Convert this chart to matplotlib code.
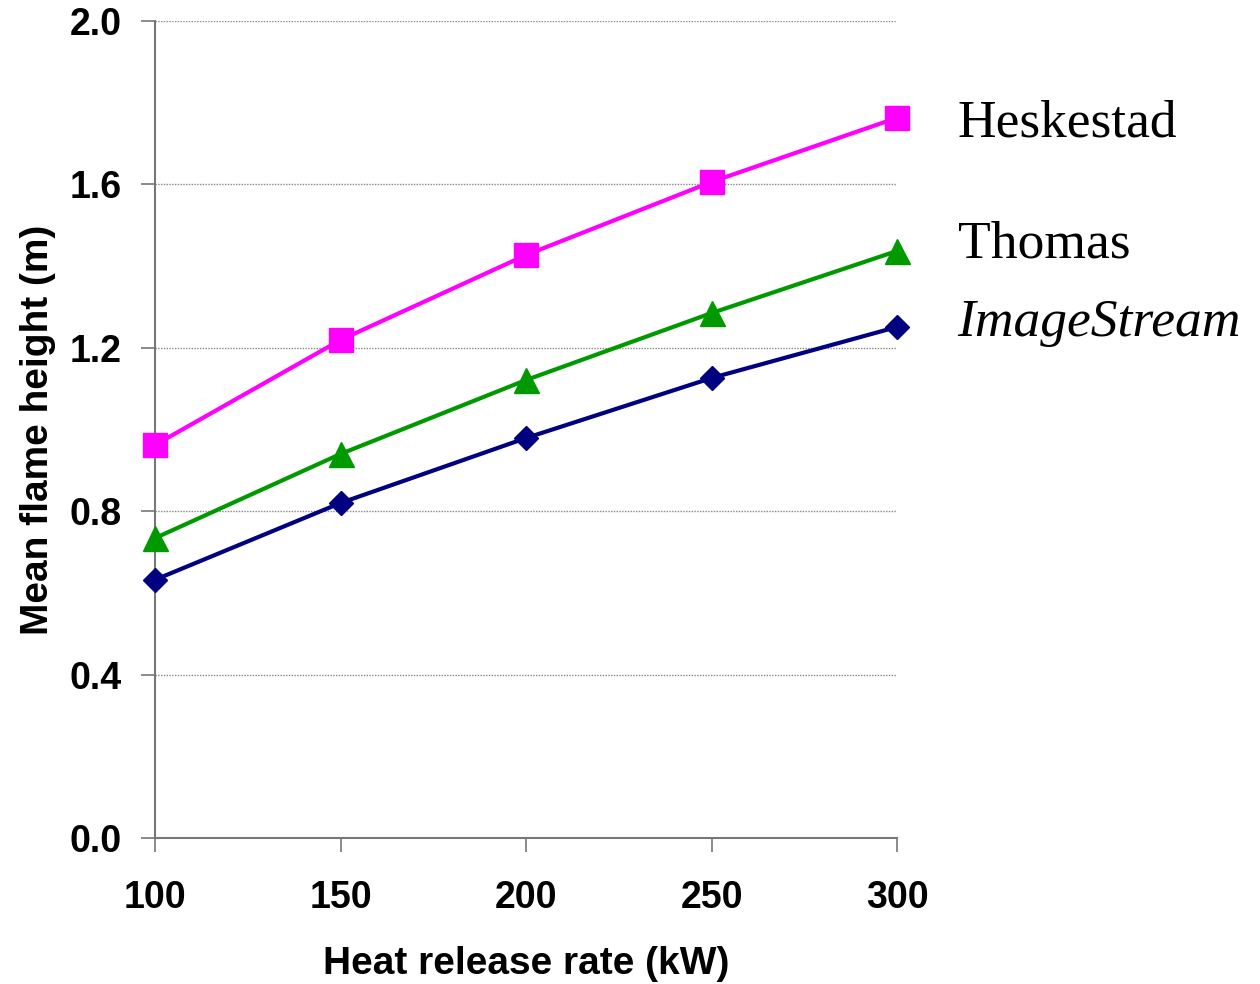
import matplotlib
matplotlib.use('Agg')
import matplotlib.pyplot as plt

hrr = [100, 150, 200, 250, 300]
heskestad = [0.962, 1.219, 1.427, 1.606, 1.763]
thomas = [0.734, 0.940, 1.121, 1.285, 1.437]
imagestream = [0.632, 0.820, 0.979, 1.126, 1.251]
yticks = [0.0, 0.4, 0.8, 1.2, 1.6, 2.0]

plt.rcParams['font.family'] = ['Liberation Sans', 'DejaVu Sans']

fig = plt.figure(figsize=(12.6, 9.84), dpi=100)
ax = fig.add_axes([0.123, 0.1484, 0.589, 0.8303])

ax.plot(hrr, heskestad, color='#ff00ff', lw=3, marker='s', ms=17, clip_on=False, zorder=4)
ax.plot(hrr, thomas, color='#009900', lw=3, marker='^', ms=18, clip_on=False, zorder=4)
ax.plot(hrr, imagestream, color='#000080', lw=3, marker='D', ms=12, clip_on=False, zorder=4)

ax.set_xlim(100, 300)
ax.set_ylim(0, 2.0)
ax.set_xticks(hrr)
ax.set_yticks(yticks)
ax.set_yticklabels([f'{v:.1f}' for v in yticks])
for lbl in ax.get_xticklabels() + ax.get_yticklabels():
    lbl.set_fontweight('bold')
    lbl.set_fontsize(27)
ax.tick_params(axis='x', direction='out', length=10, width=1.2, color='#777777', pad=20)
ax.tick_params(axis='y', direction='out', length=10, width=1.2, color='#777777', pad=14)
ax.yaxis.grid(True, color='#888888', lw=1, linestyle=(0, (1, 1)))
ax.set_axisbelow(True)
for s in ['top', 'right']:
    ax.spines[s].set_visible(False)
for s in ['left', 'bottom']:
    ax.spines[s].set_color('#777777')
    ax.spines[s].set_linewidth(1.5)

ax.set_xlabel('Heat release rate (kW)', fontsize=28, fontweight='bold', labelpad=22)
ax.set_ylabel('Mean flame height (m)', fontsize=28, fontweight='bold', labelpad=10)

fig.text(0.76, 0.874, 'Heskestad', fontsize=38.5, family='Liberation Serif', va='center')
fig.text(0.76, 0.752, 'Thomas', fontsize=38.5, family='Liberation Serif', va='center')
fig.text(0.76, 0.672, 'ImageStream', fontsize=38.5, family='Liberation Serif', style='italic', va='center')

fig.savefig('out.png', dpi=100)
